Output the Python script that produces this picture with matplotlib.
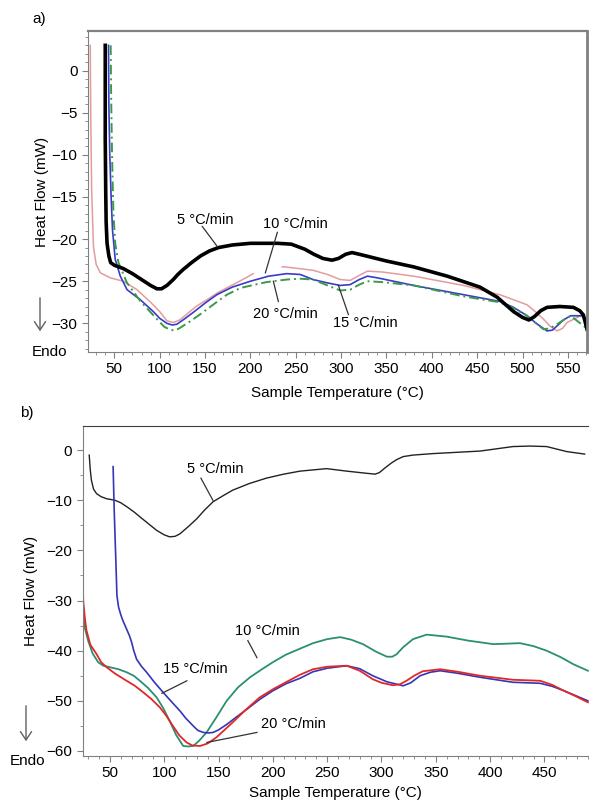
import numpy as np
import matplotlib
matplotlib.use("Agg")
import matplotlib.pyplot as plt

plt.rcParams['font.family'] = ['Liberation Sans', 'DejaVu Sans']

# ---------------- Panel a data ----------------
a_T5 = [40, 40, 40.5, 41, 42, 44, 46, 50, 60, 70, 80, 90, 97, 102, 108, 115, 120, 126, 135, 145, 155, 165, 180,
        200, 230, 245, 260, 270, 280, 290, 297, 305, 312, 320, 335, 350, 380, 417, 453, 472, 490, 500, 507,
        513, 520, 527, 541, 556, 563, 567, 571]
a_H5 = [3, -8, -14, -18, -20.5, -22, -22.8, -23.1, -23.5, -24.1, -24.8, -25.5, -25.9, -25.9, -25.5, -24.8,
        -24.2, -23.6, -22.8, -22.0, -21.4, -21.0, -20.7, -20.5, -20.5, -20.6, -21.2, -21.8, -22.3, -22.5,
        -22.3, -21.8, -21.6, -21.8, -22.2, -22.6, -23.3, -24.4, -25.7, -26.9, -28.6, -29.3, -29.6, -29.2,
        -28.5, -28.1, -28.0, -28.1, -28.5, -29.0, -30.7]

a_T10 = [23.5, 24, 25, 27, 30, 34.6, 45.6, 60, 75, 90, 100, 108, 115, 122, 130, 140, 152, 165, 181, 195, 203,
         np.nan, 235, 238, 269, 285, 299, 310, 320, 329, 345, 380, 435, 475, 505, 515, 523, 530, 538, 544, 549,
         564, 571]
a_H10 = [3, -5, -14, -20.9, -23.0, -24.0, -24.6, -25.0, -26.0, -27.5, -28.6, -29.7, -29.9, -29.6, -28.9,
         -28.0, -27.2, -26.3, -25.4, -24.6, -24.1, np.nan, -23.3, -23.3, -23.7, -24.2, -24.8, -24.9, -24.3,
         -23.8, -23.9, -24.4, -25.5, -26.6, -27.8, -28.7, -29.5, -30.3, -30.9, -30.6, -29.9, -29.1, -29.5]

a_T15 = [43.6, 44, 45, 46.5, 48, 51, 56.6, 64, 78.7, 93, 100, 108, 114, 119, 127, 137, 150, 163, 180, 200, 220,
         240, 255, 269, 285, 299, 310, 320, 329, 340, 380, 435, 475, 490, 505, 515, 527, 533, 538, 545, 553,
         566, 572]
a_H15 = [3, -4, -10, -15, -18.9, -22.4, -24.4, -26.0, -27.2, -28.6, -29.4, -30.0, -30.2, -30.1, -29.5, -28.7,
         -27.6, -26.6, -25.7, -25.0, -24.4, -24.1, -24.2, -24.8, -25.2, -25.5, -25.4, -24.8, -24.4, -24.6,
         -25.5, -26.6, -27.4, -28.1, -29.1, -30.0, -30.9, -30.8, -30.3, -29.6, -29.1, -29.1, -30.4]

a_T20 = [46, 46.5, 47.5, 49, 51, 54.6, 64, 79, 97, 105, 112, 118, 123, 133, 145, 160, 174, 189, 205, 218, 240,
         255, 269, 285, 299, 310, 320, 329, 345, 380, 435, 475, 490, 505, 515, 523, 530, 538, 545, 553, 572]
a_H20 = [3, -3, -10, -16.9, -20.5, -22.8, -25.2, -27.4, -29.5, -30.4, -30.8, -30.8, -30.5, -29.8, -28.9,
         -27.7, -26.6, -25.8, -25.4, -25.1, -24.8, -24.7, -24.8, -25.5, -26.1, -26.0, -25.4, -25.0, -25.1,
         -25.5, -26.8, -27.5, -28.2, -29.1, -30.0, -30.7, -30.6, -30.1, -29.6, -29.1, -30.7]

# ---------------- Panel b data ----------------
b_T5 = [31, 32, 33, 35, 37.8, 42, 47, 54.6, 60, 65.6, 72, 77.6, 85, 93, 100, 105, 110, 114.5, 122, 130, 137,
        145, 155, 163, 178, 194, 210, 225, 249.5, 268, 285, 294, 298, 303, 309, 314, 320, 329, 347.5, 390.7,
        421, 436.7, 452, 470.5, 487]
b_H5 = [-1.0, -4.0, -6.0, -7.8, -8.7, -9.3, -9.7, -10.0, -10.5, -11.3, -12.3, -13.3, -14.6, -16.0, -16.9,
        -17.3, -17.2, -16.7, -15.3, -13.7, -12.0, -10.3, -9.0, -8.0, -6.7, -5.6, -4.8, -4.2, -3.7, -4.2,
        -4.6, -4.8, -4.5, -3.6, -2.6, -1.9, -1.3, -1.0, -0.7, -0.2, 0.7, 0.8, 0.7, -0.3, -0.8]

b_T10 = [25, 27, 30, 34, 39.2, 44, 50, 58, 65.4, 72, 77.6, 85, 93, 99, 105, 111, 117.5, 122, 126.7, 132, 139,
         148, 157.5, 168, 179, 190, 200, 212, 225, 237, 250, 262, 272, 283, 295, 305, 310, 314, 320, 329,
         341.6, 360, 380, 403, 427.5, 440, 452, 465, 476.6, 490]
b_H10 = [-32, -35.5, -38, -40.5, -42.3, -43.0, -43.3, -43.7, -44.3, -45.0, -46.0, -47.4, -49.3, -51.4, -54.0,
         -56.8, -59.0, -59.1, -59.0, -58.0, -56.3, -53.3, -50.0, -47.3, -45.3, -43.7, -42.3, -40.8, -39.6,
         -38.5, -37.7, -37.3, -37.8, -38.7, -40.2, -41.2, -41.2, -40.7, -39.3, -37.7, -36.8, -37.2, -38.0,
         -38.7, -38.5, -39.1, -40.0, -41.3, -42.7, -44.0]

b_T15 = [53, 54, 55.5, 56.5, 58, 60, 62, 64, 66, 68, 70, 72, 74.6, 79, 83.8, 91, 99, 106, 114.5, 120, 126.7,
         131, 136, 141, 145, 150, 157.6, 166, 176, 188, 200, 212, 225, 237, 250, 268, 280, 292, 305, 320, 327,
         335.5, 345, 354, 370, 390.7, 421, 446, 457, 467, 478, 490]
b_H15 = [-3.3, -12, -22, -29, -31.3, -32.8, -34, -35, -36, -37, -38.3, -40, -41.7, -43.1, -44.3, -46.3, -48.3,
         -50.0, -52.0, -53.5, -55.0, -55.9, -56.3, -56.4, -56.3, -55.8, -54.7, -53.3, -51.7, -49.7, -48.0,
         -46.6, -45.5, -44.2, -43.5, -43.0, -43.6, -45.0, -46.2, -47.0, -46.4, -45.0, -44.3, -44.0, -44.5,
         -45.3, -46.3, -46.5, -47.1, -47.9, -48.9, -50.0]

b_T20 = [25, 25, 25.5, 27, 28.5, 32, 37.8, 42, 47, 55, 65.4, 73, 80.7, 88, 96, 102, 108, 114, 120.6, 126, 133,
         140, 148, 155, 163, 175, 188, 200, 212, 225, 237, 250, 268, 280, 292, 300, 310.6, 317, 323, 330, 338,
         354, 370, 390.7, 421, 446, 457, 467, 478, 490]
b_H20 = [-14.7, -25, -30, -33.5, -36, -38.8, -40.7, -42.3, -43.3, -44.6, -46.0, -47.0, -48.3, -49.6, -51.3,
         -53.0, -55.0, -56.9, -58.3, -58.9, -59.0, -58.5, -57.3, -55.9, -54.3, -51.8, -49.3, -47.7, -46.3,
         -44.8, -43.7, -43.2, -43.0, -44.0, -45.7, -46.4, -46.9, -46.7, -46.0, -45.0, -44.1, -43.7, -44.2,
         -45.0, -45.8, -46.0, -46.8, -47.9, -49.0, -50.3]

W, H = 589, 800
fig = plt.figure(figsize=(W / 100, H / 100), dpi=100)

def px(x0, y0, x1, y1):
    return [x0 / W, 1 - y1 / H, (x1 - x0) / W, (y1 - y0) / H]

spine_c = '#808080'
FS = 11
LFS = 10.5

# ---------------- Panel a ----------------
axa = fig.add_axes(px(88, 31, 587, 352))
axa.plot(a_T10, a_H10, color='#e39c9c', lw=1.1)
axa.plot(a_T15, a_H15, color='#3b3bc8', lw=1.2)
axa.plot(a_T20, a_H20, color='#3a9a4a', lw=1.4, ls=(0, (5, 2, 1, 2)))
axa.plot(a_T5, a_H5, color='black', lw=2.6)
axa.set_xlim(21, 571)
axa.set_ylim(-33.4, 4.7)
axa.set_xticks(np.arange(50, 551, 50))
axa.set_xticks(np.arange(30, 571, 10), minor=True)
axa.set_yticks(np.arange(-30, 1, 5))
axa.set_yticks(np.arange(-33, 5, 1), minor=True)
axa.set_yticklabels(['\u221230', '\u221225', '\u221220', '\u221215', '\u221210', '\u22125', '0'])
for s in axa.spines.values():
    s.set_color(spine_c)
axa.spines['top'].set_linewidth(1.6)
axa.spines['right'].set_linewidth(2.0)
axa.tick_params(which='both', direction='out', color=spine_c, labelsize=FS)
axa.tick_params(which='major', length=4)
axa.tick_params(which='minor', length=2)
axa.set_xlabel('Sample Temperature (\u00b0C)', fontsize=FS, labelpad=7)
axa.set_ylabel('Heat Flow (mW)', fontsize=FS, labelpad=2)

def pointer(ax, txt, tpos, p0, p1):
    ax.text(tpos[0], tpos[1], txt, fontsize=LFS, ha='center', va='center')
    ax.plot([p0[0], p1[0]], [p0[1], p1[1]], color='#333333', lw=0.9)

pointer(axa, '5 \u00b0C/min', (150.3, -17.7), (147, -18.5), (163.6, -20.9))
pointer(axa, '10 \u00b0C/min', (249.6, -18.2), (229.7, -19.2), (216.5, -24.0))
pointer(axa, '20 \u00b0C/min', (238.5, -28.9), (230.8, -27.4), (225.3, -25.0))
pointer(axa, '15 \u00b0C/min', (326.7, -29.9), (308, -28.95), (297, -25.5))

fig.text(32 / W, 1 - 19 / H, 'a)', fontsize=FS, ha='left', va='center')
fig.text(32 / W, 1 - 352 / H, 'Endo', fontsize=FS, ha='left', va='center')
fig.add_artist(matplotlib.patches.FancyArrowPatch((40 / W, 1 - 295 / H), (40 / W, 1 - 334 / H),
               transform=fig.transFigure, arrowstyle='->,head_length=6,head_width=4',
               color='#606060', lw=1.0, mutation_scale=1))

# ---------------- Panel b ----------------
axb = fig.add_axes(px(82.7, 426, 589, 756))
axb.plot(b_T5, b_H5, color='#222222', lw=1.0)
axb.plot(b_T10, b_H10, color='#2a9070', lw=1.3)
axb.plot(b_T15, b_H15, color='#3535b8', lw=1.2)
axb.plot(b_T20, b_H20, color='#e02828', lw=1.3)
axb.set_xlim(25, 491)
axb.set_ylim(-61, 4.8)
axb.set_xticks(np.arange(50, 451, 50))
axb.set_xticks(np.arange(30, 491, 10), minor=True)
axb.set_yticks(np.arange(-60, 1, 10))
axb.set_yticks(np.arange(-60, 1, 5), minor=True)
axb.set_yticklabels(['\u221260', '\u221250', '\u221240', '\u221230', '\u221220', '\u221210', '0'])
axb.spines['right'].set_visible(False)
for k in ['left', 'bottom']:
    axb.spines[k].set_color(spine_c)
axb.spines['top'].set_color('#404040')
axb.tick_params(which='both', direction='out', color=spine_c, labelsize=FS)
axb.tick_params(which='major', length=4)
axb.tick_params(which='minor', length=2)
axb.set_xlabel('Sample Temperature (\u00b0C)', fontsize=FS, labelpad=4)
axb.set_ylabel('Heat Flow (mW)', fontsize=FS, labelpad=6)

pointer(axb, '5 \u00b0C/min', (147, -3.8), (133.8, -5.6), (144.8, -10))
pointer(axb, '10 \u00b0C/min', (194.6, -36.1), (177, -38), (185.4, -41.4))
pointer(axb, '15 \u00b0C/min', (128.3, -43.6), (120.9, -46), (97.9, -48.5))
pointer(axb, '20 \u00b0C/min', (218.5, -54.6), (185.4, -56.3), (139.3, -58.3))

fig.text(20 / W, 1 - 413 / H, 'b)', fontsize=FS, ha='left', va='center')
fig.text(10 / W, 1 - 761 / H, 'Endo', fontsize=FS, ha='left', va='center')
fig.add_artist(matplotlib.patches.FancyArrowPatch((26 / W, 1 - 703 / H), (26 / W, 1 - 744 / H),
               transform=fig.transFigure, arrowstyle='->,head_length=6,head_width=4',
               color='#606060', lw=1.0, mutation_scale=1))

fig.savefig('out.png', dpi=100)
